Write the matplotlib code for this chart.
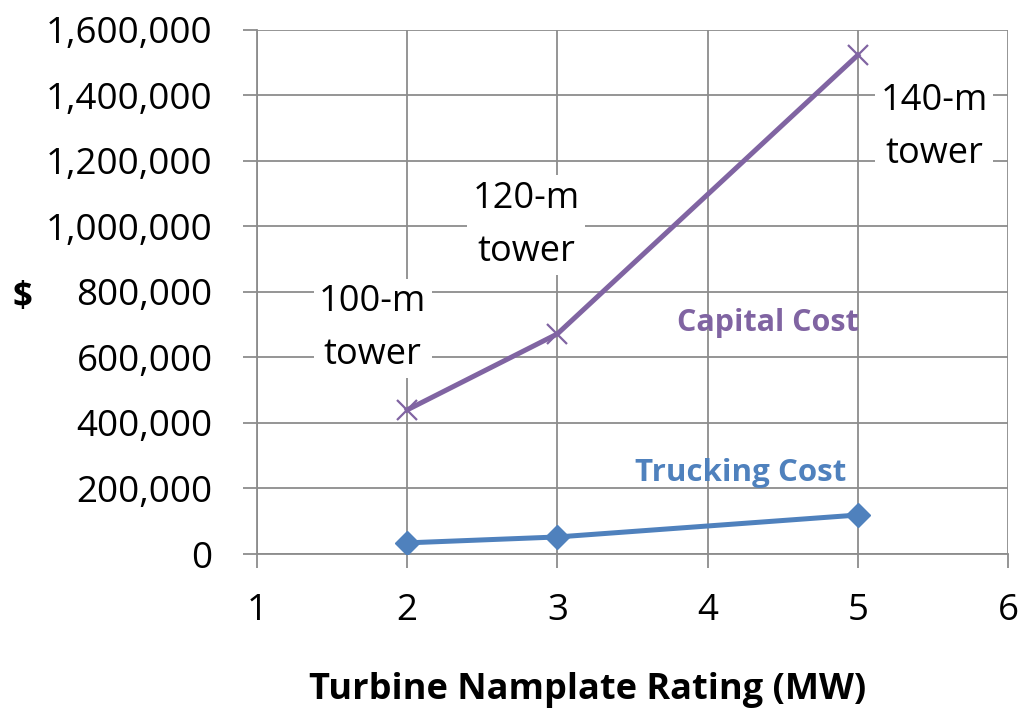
import matplotlib.pyplot as plt
from matplotlib.ticker import FuncFormatter

plt.rcParams["font.family"] = ["Open Sans", "DejaVu Sans"]

ratings = [2, 3, 5]
capital_cost = [440000, 672000, 1523000]
trucking_cost = [34000, 52000, 119000]
tower_labels = ["100-m\ntower", "120-m\ntower", "140-m\ntower"]

PURPLE = "#8064A2"
BLUE = "#4F81BD"
GRID = "#8C8C8C"

fig = plt.figure(figsize=(10.23, 7.13), dpi=100)
ax = fig.add_axes([0.2512, 0.223, 0.7341, 0.735])

ax.plot(ratings, capital_cost, color=PURPLE, lw=3.6, marker="x",
        markersize=14, markeredgewidth=1.6, zorder=3)
ax.plot(ratings, trucking_cost, color=BLUE, lw=3.6, marker="D",
        markersize=12, zorder=3)

ax.set_xlim(1, 6)
ax.set_ylim(0, 1600000)
ax.set_xticks(range(1, 7))
ax.set_yticks(range(0, 1600001, 200000))
ax.yaxis.set_major_formatter(FuncFormatter(lambda v, p: f"{int(v):,}"))

ax.grid(True, color=GRID, lw=1.3)
ax.set_axisbelow(True)
for s in ["top", "right"]:
    ax.spines[s].set_visible(False)
for s in ["left", "bottom"]:
    ax.spines[s].set_color(GRID)
    ax.spines[s].set_linewidth(1.3)

ax.tick_params(axis="y", length=10, width=1.3, color=GRID, pad=22, labelsize=26.5)
ax.tick_params(axis="x", length=10, width=1.3, color=GRID, pad=18, labelsize=26.5)

box = dict(facecolor="white", edgecolor="none", pad=4)
label_pos = [(1.77, 688000), (2.79, 1004000), (5.51, 1302000)]
for (lx, ly), t in zip(label_pos, tower_labels):
    ax.text(lx, ly, t, fontsize=26, ha="center", va="center",
            linespacing=1.62, bbox=box, zorder=4)

ax.text(4.4, 705000, "Capital Cost", color=PURPLE, fontsize=22,
        fontweight="bold", ha="center", va="center")
ax.text(4.22, 247000, "Trucking Cost", color=BLUE, fontsize=22.5,
        fontweight="bold", ha="center", va="center")

fig.text(0.022, 0.582, "$", fontsize=25, fontweight="bold", ha="center", va="center")
fig.text(0.574, 0.032, "Turbine Namplate Rating (MW)", fontsize=26,
         fontweight="bold", ha="center", va="center")

fig.savefig("out.png", dpi=100)
